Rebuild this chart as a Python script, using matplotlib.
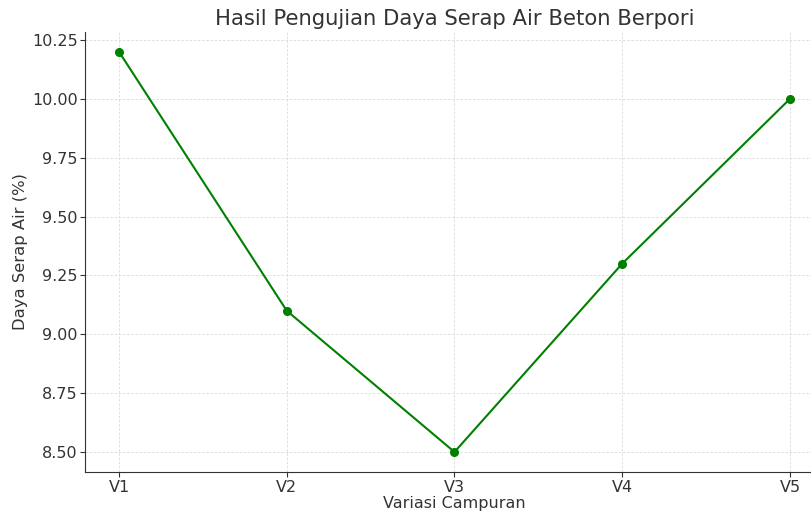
import matplotlib.pyplot as plt

variasi = ["V1", "V2", "V3", "V4", "V5"]
daya_serap = [10.2, 9.1, 8.5, 9.3, 10.0]

fig = plt.figure(figsize=(8.11, 5.15), dpi=100)
ax = fig.add_axes([0.1054, 0.0835, 0.910, 0.8548])

ax.plot(variasi, daya_serap, marker='o', color='green', linewidth=1.5, markersize=5.5)

ax.set_title("Hasil Pengujian Daya Serap Air Beton Berpori", fontsize=15.2, color='#333333', pad=5)
ax.set_xlabel("Variasi Campuran", fontsize=11.5, color='#333333', labelpad=1)
ax.set_ylabel("Daya Serap Air (%)", fontsize=11.8, color='#333333', labelpad=3)
ax.set_yticks([8.5, 8.75, 9.0, 9.25, 9.5, 9.75, 10.0, 10.25])
ax.tick_params(labelsize=11.5, colors='#333333', pad=2)
ax.grid(True, linestyle=(0, (3, 2)), color='#d9d9d9', linewidth=0.6)

for s in ['top', 'right']:
    ax.spines[s].set_visible(False)
for s in ['left', 'bottom']:
    ax.spines[s].set_color('#333333')

fig.savefig("out.png", dpi=100)
